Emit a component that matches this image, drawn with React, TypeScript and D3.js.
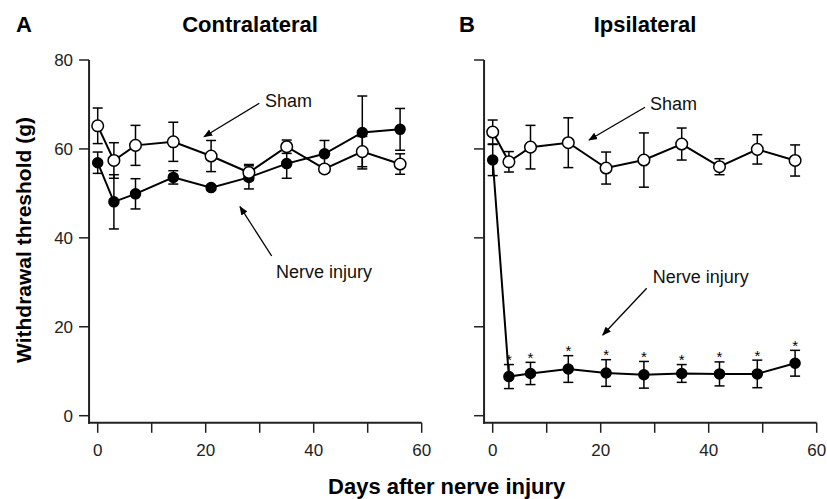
import React from 'react';
import * as d3 from 'd3';

// days of measurement
const days = [0, 3, 7, 14, 21, 28, 35, 42, 49, 56];

// contralateral (A)
const contraSham = [65.2, 57.4, 60.8, 61.6, 58.4, 54.7, 60.5, 55.5, 59.4, 56.6];
const contraShamErr = [4.0, 4.0, 4.5, 4.4, 3.5, 1.8, 1.5, 0.8, 3.4, 2.3];
const contraInjury = [56.9, 48.1, 49.9, 53.6, 51.3, 53.6, 56.7, 58.9, 63.7, 64.4];
const contraInjuryErr = [2.4, 6.1, 3.4, 1.5, 0.5, 2.6, 3.3, 3.0, 8.2, 4.7];

// ipsilateral (B)
const ipsiSham = [63.8, 57.1, 60.4, 61.4, 55.7, 57.5, 61.1, 56.0, 59.9, 57.4];
const ipsiShamErr = [2.7, 2.3, 4.9, 5.6, 3.6, 6.1, 3.6, 1.8, 3.3, 3.5];
const ipsiInjury = [57.5, 8.8, 9.5, 10.5, 9.6, 9.2, 9.5, 9.4, 9.4, 11.8];
const ipsiInjuryErr = [3.5, 2.7, 2.5, 3.0, 3.0, 3.0, 2.0, 2.7, 3.1, 2.9];
const ipsiStars = [false, true, true, true, true, true, true, true, true, true];

const xTicks = [0, 10, 20, 30, 40, 50, 60];
const xTickLabels = [0, 20, 40, 60];
const yTicks = [0, 20, 40, 60, 80];

const FONT = '"Liberation Sans", Arial, sans-serif';

type Series = { values: number[]; err: number[]; filled: boolean; stars?: boolean[] };

type Note = { text: string; tx: number; ty: number; x1: number; y1: number; x2: number; y2: number };

function Panel(props: {
  offsetX: number;
  letter: string;
  title: string;
  series: Series[];
  showYLabels: boolean;
  notes: Note[];
}) {
  const { offsetX, letter, title, series, showYLabels, notes } = props;
  const x = d3.scaleLinear().domain([0, 60]).range([97.7 + offsetX, 421.7 + offsetX]);
  const y = d3.scaleLinear().domain([0, 80]).range([415.7, 60]);
  const axisLeft = x(-1.6);
  const axisBottom = y(-1.6);
  const line = d3
    .line<number>()
    .x((_, i) => x(days[i]))
    .y((d) => y(d));
  const arrowId = 'arrow' + letter;

  return (
    <g>
      <defs>
        <marker id={arrowId} viewBox="0 0 10 10" refX="9" refY="5" markerWidth="9" markerHeight="9" orient="auto" markerUnits="userSpaceOnUse">
          <path d="M0,1 L10,5 L0,9 Z" fill="#000" />
        </marker>
      </defs>
      <text x={offsetX + (letter === 'A' ? 16 : 64)} y={31.7} fontSize={22} fontWeight="bold" fontFamily={FONT}>
        {letter}
      </text>
      <text x={offsetX + 250} y={31.7} fontSize={22} fontWeight="bold" textAnchor="middle" fontFamily={FONT}>
        {title}
      </text>

      {/* axes */}
      <line x1={axisLeft} x2={axisLeft} y1={y(80)} y2={axisBottom + 1} stroke="#222" strokeWidth={2} />
      <line x1={axisLeft - 1} x2={x(60)} y1={axisBottom} y2={axisBottom} stroke="#222" strokeWidth={2} />
      {yTicks.map((t) => (
        <g key={'y' + t}>
          <line x1={axisLeft - 10} x2={axisLeft} y1={y(t)} y2={y(t)} stroke="#222" strokeWidth={1.5} />
          {showYLabels && (
            <text x={axisLeft - 16} y={y(t)} dy="0.35em" textAnchor="end" fontSize={17} fontFamily={FONT} fill="#222">
              {t}
            </text>
          )}
        </g>
      ))}
      {xTicks.map((t) => (
        <line key={'x' + t} x1={x(t)} x2={x(t)} y1={axisBottom} y2={axisBottom + 10} stroke="#222" strokeWidth={1.5} />
      ))}
      {xTickLabels.map((t) => (
        <text key={'xl' + t} x={x(t)} y={455.7} textAnchor="middle" fontSize={17} fontFamily={FONT} fill="#222">
          {t}
        </text>
      ))}

      {/* data lines */}
      {series.map((s, si) => (
        <path key={'l' + si} d={line(s.values) || ''} fill="none" stroke="#000" strokeWidth={2} />
      ))}
      {/* error bars */}
      {series.map((s, si) =>
        s.values.map((v, i) => {
          const cx = x(days[i]);
          const top = y(v + s.err[i]);
          const bot = y(v - s.err[i]);
          return (
            <g key={'e' + si + '-' + i} stroke="#000" strokeWidth={1.5}>
              <line x1={cx} x2={cx} y1={top} y2={bot} />
              <line x1={cx - 5} x2={cx + 5} y1={top} y2={top} />
              <line x1={cx - 5} x2={cx + 5} y1={bot} y2={bot} />
            </g>
          );
        })
      )}
      {/* markers */}
      {series.map((s, si) =>
        s.values.map((v, i) => (
          <circle
            key={'c' + si + '-' + i}
            cx={x(days[i])}
            cy={y(v)}
            r={s.filled ? 5 : 5.8}
            fill={s.filled ? '#000' : '#fff'}
            stroke="#000"
            strokeWidth={1.5}
          />
        ))
      )}
      {/* significance stars */}
      {series.map((s, si) =>
        (s.stars || []).map((st, i) =>
          st ? (
            <text key={'s' + si + '-' + i} x={x(days[i])} y={y(s.values[i] + s.err[i]) - 1} dy="0.1em" textAnchor="middle" fontSize={15} fontFamily={FONT}>
              *
            </text>
          ) : null
        )
      )}

      {/* annotations */}
      {notes.map((n, i) => (
        <g key={'n' + i}>
          <text x={n.tx + offsetX} y={n.ty} fontSize={18} fontFamily={FONT} fill="#111">
            {n.text}
          </text>
          <line x1={n.x1 + offsetX} y1={n.y1} x2={n.x2 + offsetX} y2={n.y2} stroke="#000" strokeWidth={1.3} markerEnd={`url(#${arrowId})`} />
        </g>
      ))}
    </g>
  );
}

export default function App() {
  return (
    <svg width={827} height={499} style={{ position: 'absolute', left: 0, top: 0, background: '#fff' }}>
      <Panel
        offsetX={0}
        letter="A"
        title="Contralateral"
        showYLabels={true}
        series={[
          { values: contraInjury, err: contraInjuryErr, filled: true },
          { values: contraSham, err: contraShamErr, filled: false },
        ]}
        notes={[
          { text: 'Sham', tx: 265, ty: 106.5, x1: 259.3, y1: 103.3, x2: 204, y2: 136.7 },
          { text: 'Nerve injury', tx: 276, ty: 278, x1: 271.7, y1: 256, x2: 240, y2: 206.7 },
        ]}
      />
      <Panel
        offsetX={395}
        letter="B"
        title="Ipsilateral"
        showYLabels={false}
        series={[
          { values: ipsiInjury, err: ipsiInjuryErr, filled: true, stars: ipsiStars },
          { values: ipsiSham, err: ipsiShamErr, filled: false },
        ]}
        notes={[
          { text: 'Sham', tx: 255, ty: 109.5, x1: 250, y1: 107.3, x2: 194, y2: 140 },
          { text: 'Nerve injury', tx: 257.7, ty: 283, x1: 251.7, y1: 288.3, x2: 207.7, y2: 335 },
        ]}
      />
      <text
        transform="translate(31,240) rotate(-90)"
        textAnchor="middle"
        fontSize={21}
        fontWeight="bold"
        fontFamily={FONT}
      >
        Withdrawal threshold (g)
      </text>
      <text x={446.7} y={494} textAnchor="middle" fontSize={22} fontWeight="bold" fontFamily={FONT}>
        Days after nerve injury
      </text>
    </svg>
  );
}
